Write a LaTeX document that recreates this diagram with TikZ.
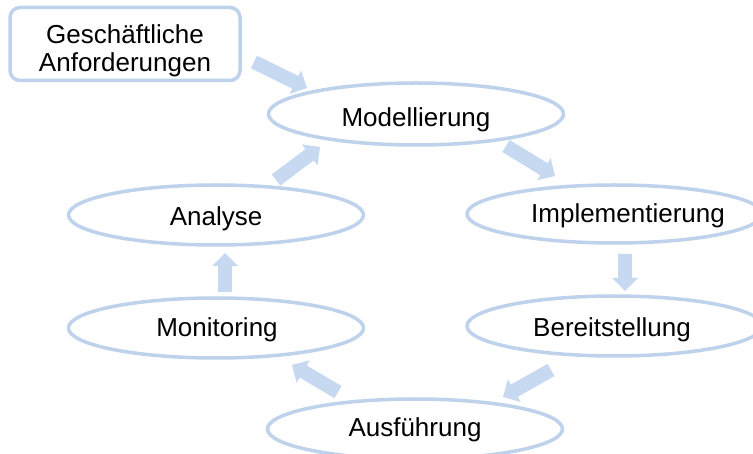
\documentclass[tikz,border=0pt]{standalone}
\usepackage{fontspec}
\setmainfont{Liberation Sans}
\usetikzlibrary{shapes.geometric,calc}
\definecolor{lineblue}{HTML}{BED2EC}
\definecolor{arrowblue}{HTML}{C6D9F1}
\tikzset{
  stage/.style={ellipse, draw=lineblue, line width=3.5pt, fill=white,
    minimum width=295pt, minimum height=60pt, inner sep=0pt},
  stagetext/.style={inner sep=0pt, font=\fontsize{26}{30}\selectfont},
  reqbox/.style={rectangle, rounded corners=10pt, draw=lineblue, line width=3.5pt,
    minimum width=230pt, minimum height=73pt, inner sep=0pt},
  arrowfill/.style={fill=arrowblue}
}
\newcommand{\blockarrow}[2]{%
  \path coordinate (bhead) at ($(#2)!13pt!(#1)$);
  \fill[arrowfill] ($(#1)!7pt!90:(#2)$) -- ($(bhead)!7pt!-90:(#1)$)
    -- ($(bhead)!13pt!-90:(#1)$) -- (#2) -- ($(bhead)!13pt!90:(#1)$)
    -- ($(bhead)!7pt!90:(#1)$) -- ($(#1)!7pt!-90:(#2)$) -- cycle;
}
\begin{document}
\begin{tikzpicture}[x=1pt,y=-1pt]
\useasboundingbox (0,0) rectangle (753,454);
\clip (0,0) rectangle (753,454);
\fill[white] (0,0) rectangle (753,454);

\node[reqbox] (req) at (125,44) {};
\node[stagetext, align=center, font=\fontsize{26}{27.5}\selectfont] (reqt) at (125,51) {Geschäftliche\\Anforderungen};

\node[stage, minimum height=62pt] (mod) at (416,114) {};
\node[stage, minimum height=58pt] (impl) at (614.5,214) {};
\node[stage] (bereit) at (614.5,326) {};
\node[stage] (ausf) at (415,429) {};
\node[stage] (mon) at (216,328) {};
\node[stage] (ana) at (216,215) {};

\node[stagetext] (modt) at (416,120) {Modellierung};
\node[stagetext] (implt) at (628,216) {Implementierung};
\node[stagetext] (bereitt) at (612,330) {Bereitstellung};
\node[stagetext] (ausft) at (415,430) {Ausführung};
\node[stagetext] (mont) at (217,330) {Monitoring};
\node[stagetext] (anat) at (216,219) {Analyse};

\coordinate (a1s) at (254,62);  \coordinate (a1e) at (307,88);
\coordinate (a2s) at (506,146); \coordinate (a2e) at (555,176);
\coordinate (a3s) at (625,254); \coordinate (a3e) at (625,291);
\coordinate (a4s) at (551,370); \coordinate (a4e) at (503,397);
\coordinate (a5s) at (338,392); \coordinate (a5e) at (292,365);
\coordinate (a6s) at (225,292); \coordinate (a6e) at (225,253);
\coordinate (a7s) at (276,180); \coordinate (a7e) at (320,147);

\blockarrow{a1s}{a1e}
\blockarrow{a2s}{a2e}
\blockarrow{a3s}{a3e}
\blockarrow{a4s}{a4e}
\blockarrow{a5s}{a5e}
\blockarrow{a6s}{a6e}
\blockarrow{a7s}{a7e}
\end{tikzpicture}
\end{document}
